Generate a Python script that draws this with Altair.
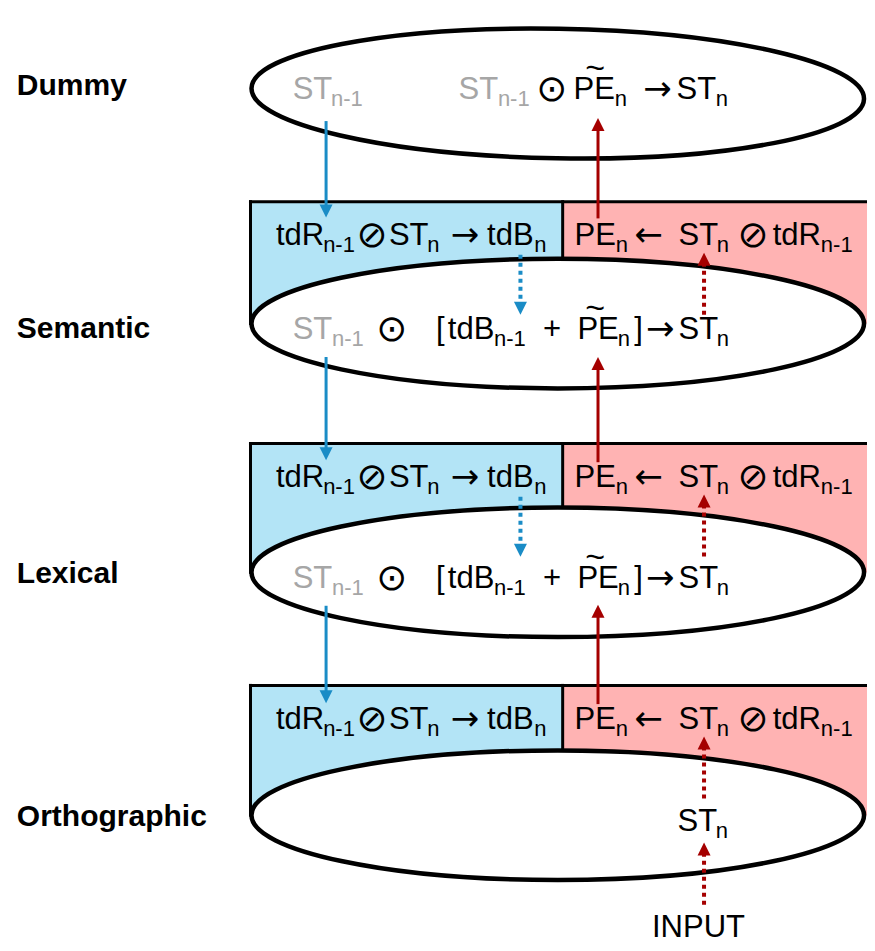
import altair as alt
import pandas as pd

# ---------------- canvas ----------------
# reference coordinates span 875 x 951; drawn into a 859 x 935 plot area
REF_W, REF_H = 875, 951
W, H = 859, 935

# ---------------- levels ----------------
level_names = ["Dummy", "Semantic", "Lexical", "Orthographic"]
label_x = 9
label_baseline = [88, 336, 585, 832]
ellipse_cy = [87, 321, 574, 821]
ellipse_tilt = [1, 0, 0, 0]
ellipse_cx = 560
ellipse_rx = 312
ellipse_ry = 66

# boxes sit on the Semantic, Lexical and Orthographic ellipses
box_top = [197, 443, 689]
box_bottom = ellipse_cy[1:]
box_left, box_split, box_right = 247, 565, 875
blue_fill, pink_fill = "#b3e4f6", "#ffb3b3"

# ---------------- formula rows ----------------
# kinds: m = main text, s = subscript, o = circled operator, a = arrow glyph
box_texts = ["tdR", "n-1", "⊘", "ST", "n", "→", "tdB", "n",
             "PE", "n", "←", "ST", "n", "⊘", "tdR", "n-1"]
box_x = [273, 321, 355, 388, 427, 451, 488, 536,
         577, 619, 638, 683, 722, 743, 779, 828]
box_kind = ["m", "s", "o", "m", "s", "a", "m", "s",
            "m", "s", "a", "m", "s", "o", "m", "s"]
box_offset = 44

dummy_texts = ["ST", "n-1", "ST", "n-1", "⊙", "PE", "n", "→", "ST", "n"]
dummy_x = [290, 329, 459, 499, 538, 576, 618, 647, 681, 721]
dummy_kind = ["m", "s", "m", "s", "o", "m", "s", "a", "m", "s"]
dummy_gray = [1, 1, 1, 1, 0, 0, 0, 0, 0, 0]
dummy_baseline = 93

mid_texts = ["ST", "n-1", "⊙", "[", "tdB", "n-1", "+", "PE", "n", "]", "→", "ST", "n"]
mid_x = [290, 330, 375, 436, 448, 495, 545, 580, 621, 638, 650, 683, 722]
mid_kind = ["m", "s", "o", "m", "m", "s", "m", "m", "s", "m", "a", "m", "s"]
mid_gray = [1, 1, 0, 0, 0, 0, 0, 0, 0, 0, 0, 0, 0]
mid_baselines = [337, 590]  # Semantic, Lexical

ortho_texts = ["ST", "n", "INPUT"]
ortho_x = [682, 721, 656]
ortho_kind = ["m", "s", "m"]
ortho_baseline = [837, 837, 945]

tilde_x = 598
tilde_baselines = [dummy_baseline] + mid_baselines

# ---------------- arrows ----------------
blue_col, red_col = "#1a8cc6", "#a50000"
arrow_x = [324, 324, 324, 601, 601, 601, 522, 522, 709, 709, 709, 709]
arrow_tail = [115, 355, 608, 214, 462, 708, 251, 497, 312, 558, 804, 912]
arrow_tip = [213, 460, 707, 112, 355, 607, 312, 558, 249, 495, 741, 849]
arrow_col = [blue_col] * 3 + [red_col] * 3 + [blue_col] * 2 + [red_col] * 4
arrow_dotted = [0, 0, 0, 0, 0, 0, 1, 1, 1, 1, 1, 1]

# ---------------- build tables ----------------
GRAY = "#a6a6a6"
size_of = {"m": 31, "s": 22, "o": 37, "a": 34}
dy_of = {"m": 0, "s": 7, "o": 2, "a": 1}

rows = []
def add_row(texts, xs, kinds, base, grays=None):
    for i, (t, x, k) in enumerate(zip(texts, xs, kinds)):
        g = grays[i] if grays else 0
        rows.append(dict(t=t, x=x, y=base + dy_of[k], kind=k, fs=size_of[k],
                         col=GRAY if g else "black"))

for bt in box_top:
    add_row(box_texts, box_x, box_kind, bt + box_offset)
add_row(dummy_texts, dummy_x, dummy_kind, dummy_baseline, dummy_gray)
for mb in mid_baselines:
    add_row(mid_texts, mid_x, mid_kind, mb, mid_gray)
for t, x, k, bl in zip(ortho_texts, ortho_x, ortho_kind, ortho_baseline):
    rows.append(dict(t=t, x=x, y=bl + dy_of[k], kind=k, fs=size_of[k], col="black"))
text_df = pd.DataFrame(rows)
txt_df = text_df[text_df["kind"].isin(["m", "s"])]
sym_df = text_df[text_df["kind"].isin(["o", "a"])]

tilde_df = pd.DataFrame({"x": [tilde_x] * len(tilde_baselines),
                         "y": [bl - 31 for bl in tilde_baselines],
                         "t": ["~"] * len(tilde_baselines)})

label_df = pd.DataFrame({"t": level_names, "x": label_x, "y": label_baseline})

rect_rows = []
edge_rows = []
for top, bot in zip(box_top, box_bottom):
    rect_rows.append(dict(x=box_left, x2=box_split, y=top, y2=bot, fill=blue_fill))
    rect_rows.append(dict(x=box_split, x2=box_right, y=top, y2=bot, fill=pink_fill))
    edge_rows.append(dict(x=box_left, x2=box_right, y=top, y2=top))
    edge_rows.append(dict(x=box_left, x2=box_left, y=top, y2=bot))
    edge_rows.append(dict(x=box_split, x2=box_split, y=top, y2=bot))
rect_df = pd.DataFrame(rect_rows)
edge_df = pd.DataFrame(edge_rows)

ell_df = pd.DataFrame({"x": ellipse_cx, "y": ellipse_cy, "tilt": ellipse_tilt})

HEAD = 6.5
arr = pd.DataFrame({"x": arrow_x, "ytail": arrow_tail, "ytip": arrow_tip,
                    "col": arrow_col, "dotted": arrow_dotted})
down = arr["ytip"] > arr["ytail"]
arr["dir"] = down.map({True: "down", False: "up"})
arr["hc"] = arr["ytip"] - HEAD * down.map({True: 1, False: -1})

# ---------------- scales / helpers ----------------
xs = alt.Scale(domain=[0, REF_W], nice=False, zero=False)
ys = alt.Scale(domain=[0, REF_H], nice=False, zero=False, reverse=True)
SX = W / REF_W

def X(f="x"):
    return alt.X(f"{f}:Q", scale=xs, axis=None)

def Y(f="y"):
    return alt.Y(f"{f}:Q", scale=ys, axis=None)

rx_px = ellipse_rx * SX
b = ellipse_ry / ellipse_rx
k = 0.5523
kb = round(k * b, 4)
bb = round(b, 4)
ELLIPSE = (f"M-1,0C-1,-{kb},-{k},-{bb},0,-{bb}C{k},-{bb},1,-{kb},1,0"
           f"C1,{kb},{k},{bb},0,{bb}C-{k},{bb},-1,{kb},-1,0Z")
HEAD_DOWN = "M-1,-1L1,-1L0,1Z"
HEAD_UP = "M-1,1L1,1L0,-1Z"

rects = alt.Chart(rect_df).mark_rect().encode(
    x=X(), x2="x2:Q", y=Y(), y2="y2:Q", fill=alt.Fill("fill:N", scale=None))

edges = alt.Chart(edge_df).mark_rule(color="black", strokeWidth=3, strokeCap="square").encode(
    x=X(), x2="x2:Q", y=Y(), y2="y2:Q")

ellipses = alt.Chart(ell_df).mark_point(
    shape=ELLIPSE, size=(2 * rx_px) ** 2, filled=True, fill="white",
    stroke="black", strokeWidth=4.5, opacity=1, fillOpacity=1, strokeOpacity=1
).encode(x=X(), y=Y(), angle=alt.Angle("tilt:Q", scale=None))

solid = alt.Chart(arr[arr["dotted"] == 0]).mark_rule(strokeWidth=3).encode(
    x=X(), y=Y("ytail"), y2="hc:Q", color=alt.Color("col:N", scale=None))
dotted = alt.Chart(arr[arr["dotted"] == 1]).mark_rule(strokeWidth=4, strokeDash=[4, 4]).encode(
    x=X(), y=Y("ytail"), y2="hc:Q", color=alt.Color("col:N", scale=None))
heads_down = alt.Chart(arr[arr["dir"] == "down"]).mark_point(
    shape=HEAD_DOWN, size=(2 * HEAD) ** 2, filled=True, opacity=1, strokeWidth=0).encode(
    x=X(), y=Y("hc"), color=alt.Color("col:N", scale=None))
heads_up = alt.Chart(arr[arr["dir"] == "up"]).mark_point(
    shape=HEAD_UP, size=(2 * HEAD) ** 2, filled=True, opacity=1, strokeWidth=0).encode(
    x=X(), y=Y("hc"), color=alt.Color("col:N", scale=None))

texts = alt.Chart(txt_df).mark_text(
    align="left", baseline="alphabetic", font="Liberation Sans").encode(
    x=X(), y=Y(), text="t:N", size=alt.Size("fs:Q", scale=None),
    color=alt.Color("col:N", scale=None))
syms = alt.Chart(sym_df).mark_text(
    align="left", baseline="alphabetic", font="DejaVu Sans").encode(
    x=X(), y=Y(), text="t:N", size=alt.Size("fs:Q", scale=None),
    color=alt.Color("col:N", scale=None))
tildes = alt.Chart(tilde_df).mark_text(
    align="center", baseline="middle", font="Liberation Sans", fontSize=34, color="black").encode(
    x=X(), y=Y(), text="t:N")
labels = alt.Chart(label_df).mark_text(
    align="left", baseline="alphabetic", font="Liberation Sans", fontWeight="bold",
    fontSize=30, color="black").encode(x=X(), y=Y(), text="t:N")

chart = alt.layer(
    rects, edges, ellipses, solid, dotted, heads_down, heads_up,
    texts, syms, tildes, labels
).properties(width=W, height=H, padding=0, autosize="none").configure_view(stroke=None)

chart.save("out.html", embed_options={"renderer": "svg", "actions": False})
